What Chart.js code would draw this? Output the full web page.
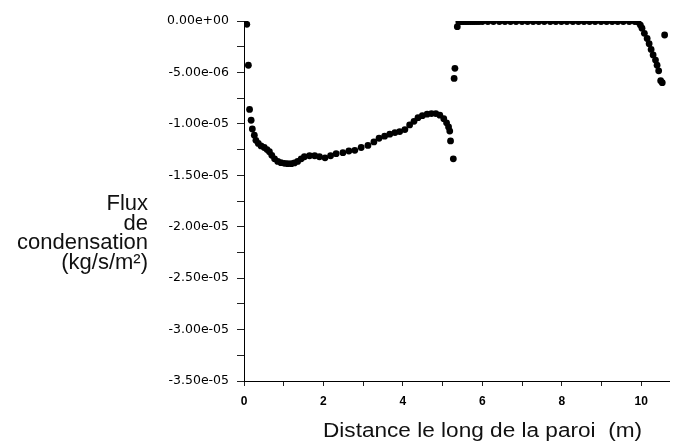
<!DOCTYPE html>
<html>
<head>
<meta charset="utf-8">
<script src="https://cdn.jsdelivr.net/npm/chart.js@4.4.1/dist/chart.umd.min.js"></script>
<style>
body { margin: 0; background: #fff; }
#wrap { width: 673px; height: 441px; position: relative; }
</style>
</head>
<body>
<div id="wrap"><canvas id="myChart"></canvas></div>
<script>
var distance = [
    0.01, 0.07, 0.11, 0.14, 0.18, 0.21, 0.26, 0.30, 0.36, 0.43, 0.51, 0.58, 0.64, 0.70, 0.77, 0.85,
    0.93, 1.02, 1.10, 1.19, 1.27, 1.35, 1.44, 1.52, 1.65, 1.78, 1.90, 2.04, 2.18, 2.32, 2.49, 2.64,
    2.79, 2.95, 3.12, 3.27, 3.40, 3.54, 3.67, 3.80, 3.92, 4.05, 4.17, 4.28, 4.38, 4.49, 4.61, 4.72,
    4.83, 4.93, 5.03, 5.10, 5.15, 5.18, 5.20, 5.27, 5.29, 5.31, 5.37,
    5.41, 5.45, 5.49, 5.53, 5.57, 5.61, 5.65, 5.70, 5.75, 5.80, 5.86, 5.92,
    6.00, 6.14, 6.28, 6.43, 6.57, 6.71, 6.85, 7.00, 7.14, 7.28, 7.42, 7.56, 7.71, 7.85,
    7.99, 8.13, 8.28, 8.42, 8.56, 8.70, 8.84, 8.99, 9.13, 9.27, 9.41, 9.55, 9.70, 9.84, 9.92,
    9.98, 10.02, 10.08, 10.15, 10.20, 10.25, 10.30, 10.36, 10.40, 10.44, 10.49, 10.53, 10.59
];
var flux = [
    -0.07e-6, -0.32e-6, -4.3e-6, -8.6e-6, -9.65e-6, -10.5e-6, -11.1e-6, -11.6e-6, -11.9e-6, -12.15e-6, -12.3e-6, -12.5e-6, -12.7e-6, -13.06e-6, -13.4e-6, -13.65e-6,
    -13.77e-6, -13.84e-6, -13.87e-6, -13.87e-6, -13.8e-6, -13.65e-6, -13.4e-6, -13.2e-6, -13.1e-6, -13.1e-6, -13.2e-6, -13.3e-6, -13.1e-6, -12.9e-6, -12.8e-6, -12.64e-6,
    -12.57e-6, -12.3e-6, -12.1e-6, -11.76e-6, -11.4e-6, -11.2e-6, -11.0e-6, -10.85e-6, -10.75e-6, -10.56e-6, -10.1e-6, -9.75e-6, -9.4e-6, -9.2e-6, -9.06e-6, -9.0e-6,
    -9.0e-6, -9.16e-6, -9.5e-6, -9.9e-6, -10.3e-6, -10.7e-6, -11.66e-6, -13.4e-6, -5.58e-6, -4.6e-6, -0.55e-6,
    -0.07e-6, -0.06e-6, -0.05e-6, -0.05e-6, -0.05e-6, -0.05e-6, -0.05e-6, -0.05e-6, -0.05e-6, -0.05e-6, -0.05e-6, -0.05e-6,
    -0.05e-6, -0.05e-6, -0.05e-6, -0.05e-6, -0.05e-6, -0.05e-6, -0.05e-6, -0.05e-6, -0.05e-6, -0.05e-6, -0.05e-6, -0.05e-6, -0.05e-6, -0.05e-6,
    -0.05e-6, -0.05e-6, -0.05e-6, -0.05e-6, -0.05e-6, -0.05e-6, -0.05e-6, -0.05e-6, -0.05e-6, -0.05e-6, -0.05e-6, -0.05e-6, -0.05e-6, -0.05e-6, -0.1e-6,
    -0.4e-6, -0.7e-6, -1.2e-6, -1.7e-6, -2.2e-6, -2.76e-6, -3.3e-6, -3.8e-6, -4.3e-6, -4.84e-6, -5.8e-6, -6.0e-6, -1.36e-6
];
var xTicks = [0, 1, 2, 3, 4, 5, 6, 7, 8, 9, 10];
var yTicks = [0, -2.5e-6, -5e-6, -7.5e-6, -10e-6, -12.5e-6, -15e-6, -17.5e-6, -20e-6, -22.5e-6, -25e-6, -27.5e-6, -30e-6, -32.5e-6, -35e-6];
var xTitle = 'Distance le long de la paroi  (m)';
var yTitle = ['Flux', 'de', 'condensation', '(kg/s/m\u00b2)'];

var points = [];
for (var i = 0; i < distance.length; i++) {
    points.push({x: distance[i], y: flux[i]});
}

// format like 0.00e+00 / -5.00e-06
var sciLabel = function(v){
    if (Math.abs(v) < 1e-12) return '0.00e+00';
    var s = v.toExponential(2);
    var parts = s.split('e');
    var sign = parts[1].charAt(0);
    var exp = parts[1].substring(1);
    if (exp.length < 2) exp = '0' + exp;
    return parts[0] + 'e' + sign + exp;
};

var titlePlugin = {
    id: 'titles',
    afterDraw: function(chart){
        var c = chart.ctx;
        c.save();
        c.fillStyle = '#111';
        c.textBaseline = 'alphabetic';
        // x title, a bit wider than plain arial like in the original
        c.save();
        c.translate(323, 437);
        c.scale(1.13, 1);
        c.font = '20px "Liberation Sans", Arial, sans-serif';
        c.textAlign = 'left';
        c.fillText(xTitle, 0, 0);
        c.restore();
        c.font = '22px "Liberation Sans", Arial, sans-serif';
        c.textAlign = 'right';
        for (var k = 0; k < yTitle.length; k++) {
            c.fillText(yTitle[k], 148, 210 + k * 19.7);
        }
        c.restore();
    }
};

var ctx = document.getElementById('myChart').getContext('2d');
var myChart = new Chart(ctx, {
    type: 'scatter',
    data: {
        datasets: [{
            data: points,
            backgroundColor: '#000',
            borderColor: '#000',
            pointRadius: 3.4,
            pointBorderWidth: 0
        }]
    },
    options: {
        responsive: true,
        maintainAspectRatio: false,
        animation: false,
        layout: { padding: { top: 21, left: 0, right: 0, bottom: 0 } },
        plugins: { legend: { display: false }, tooltip: { enabled: false } },
        scales: {
            x: {
                type: 'linear',
                min: 0,
                max: 10.7,
                afterBuildTicks: function(scale){
                    scale.ticks = xTicks.map(function(v){ return {value: v}; });
                },
                afterFit: function(scale){ scale.height = 60; },
                ticks: {
                    color: '#000',
                    font: { family: '"Liberation Sans", Arial, sans-serif', size: 12, weight: 'bold' },
                    padding: 8,
                    maxRotation: 0,
                    autoSkip: false,
                    callback: function(v){ return (v % 2 === 0) ? String(v) : ''; }
                },
                grid: { drawOnChartArea: false, drawTicks: true, tickLength: 5, color: '#222' },
                border: { display: true, color: '#000', width: 1 }
            },
            y: {
                type: 'linear',
                min: -3.5e-5,
                max: 0,
                afterBuildTicks: function(scale){
                    scale.ticks = yTicks.map(function(v){ return {value: v}; });
                },
                afterFit: function(scale){ scale.width = 244; },
                ticks: {
                    color: '#000',
                    font: { family: '"DejaVu Sans", sans-serif', size: 12.5 },
                    padding: 8,
                    autoSkip: false,
                    callback: function(v, idx){ return (idx % 2 === 0) ? sciLabel(v) : ''; }
                },
                grid: { drawOnChartArea: false, drawTicks: true, tickLength: 7, color: '#222' },
                border: { display: true, color: '#000', width: 1 }
            }
        }
    },
    plugins: [titlePlugin]
});
</script>
</body>
</html>
